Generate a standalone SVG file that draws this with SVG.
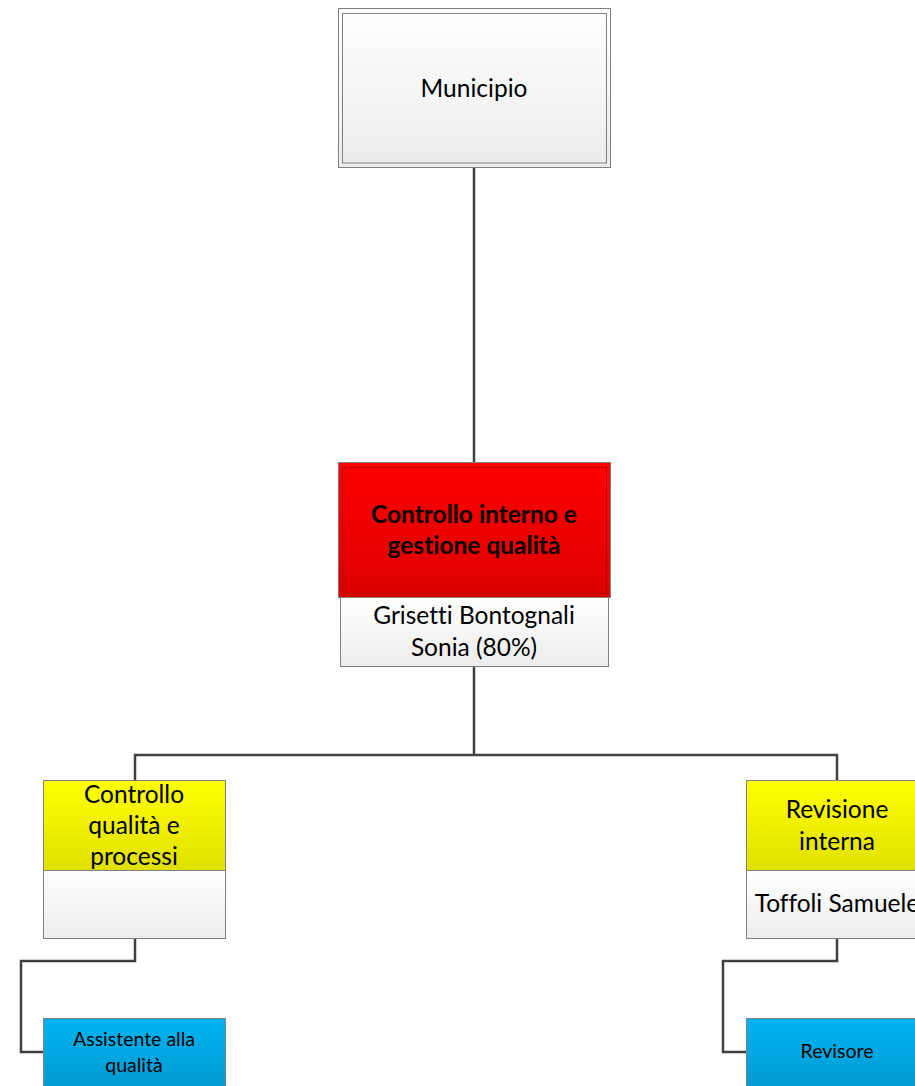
<svg xmlns="http://www.w3.org/2000/svg" width="915" height="1086" viewBox="0 0 915 1086">
<defs>
<linearGradient id="gGray" x1="0" y1="0" x2="0" y2="1"><stop offset="0" stop-color="#ffffff"/><stop offset="1" stop-color="#ececec"/></linearGradient>
<linearGradient id="gRed" x1="0" y1="0" x2="0" y2="1"><stop offset="0" stop-color="#ff0000"/><stop offset="1" stop-color="#dc0000"/></linearGradient>
<linearGradient id="gYellow" x1="0" y1="0" x2="0" y2="1"><stop offset="0" stop-color="#ffff00"/><stop offset="1" stop-color="#e0e000"/></linearGradient>
<linearGradient id="gBlue" x1="0" y1="0" x2="0" y2="1"><stop offset="0" stop-color="#00b4f2"/><stop offset="1" stop-color="#0096cc"/></linearGradient>
</defs>
<style>
.t{font-family:Lato,"Open Sans","Liberation Sans",sans-serif;font-size:24.5px;fill:#000;text-anchor:middle;font-variant-ligatures:none}
.b{font-weight:bold}
.s{font-size:19.5px}
.box{stroke:#808080;stroke-width:1}
.conn{fill:none;stroke:#404040;stroke-width:2.5}
</style>
<g id="connectors">
<path class="conn" d="M474,167 V463"/>
<path class="conn" d="M474,667 V755 M135,780 V755 H837 V780"/>
<path class="conn" d="M135,938 V961 H21 V1052 H44"/>
<path class="conn" d="M837,938 V961 H723 V1052 H747"/>
</g>
<g id="municipio">
<rect class="box" x="338.5" y="8.5" width="272" height="159" fill="url(#gGray)"/>
<rect x="342.5" y="13.5" width="264" height="149.5" fill="none" stroke="#808080" stroke-width="1"/>
<text class="t" x="474" y="97">Municipio</text>
</g>
<g id="controllo-interno">
<rect class="box" x="338.5" y="462.5" width="272" height="135" fill="url(#gRed)"/>
<rect x="342.5" y="467.5" width="264" height="126" fill="none" stroke="#b00000" stroke-width="1"/>
<text class="t b" x="474" y="523">Controllo interno e</text>
<text class="t b" x="474" y="554">gestione qualità</text>
</g>
<g id="grisetti">
<rect class="box" x="340.5" y="597.5" width="268" height="69" fill="url(#gGray)"/>
<text class="t" x="474" y="624">Grisetti Bontognali</text>
<text class="t" x="474" y="656">Sonia (80%)</text>
</g>
<g id="controllo-qualita">
<rect class="box" x="43.5" y="780.5" width="182" height="90" fill="url(#gYellow)"/>
<text class="t" x="134" y="803">Controllo</text>
<text class="t" x="134" y="834">qualità e</text>
<text class="t" x="134" y="865">processi</text>
</g>
<g id="controllo-qualita-name">
<rect class="box" x="43.5" y="870.5" width="182" height="68" fill="url(#gGray)"/>
</g>
<g id="assistente">
<rect class="box" x="43.5" y="1018.5" width="182" height="80" fill="url(#gBlue)"/>
<text class="t s" x="134" y="1046">Assistente alla</text>
<text class="t s" x="134" y="1072">qualità</text>
</g>
<g id="revisione-interna">
<rect class="box" x="746.5" y="780.5" width="182" height="90" fill="url(#gYellow)"/>
<text class="t" x="837" y="818">Revisione</text>
<text class="t" x="837" y="850">interna</text>
</g>
<g id="toffoli">
<rect class="box" x="746.5" y="870.5" width="182" height="68" fill="url(#gGray)"/>
<text class="t" x="837" y="912">Toffoli Samuele</text>
</g>
<g id="revisore">
<rect class="box" x="746.5" y="1018.5" width="182" height="80" fill="url(#gBlue)"/>
<text class="t s" x="837" y="1058">Revisore</text>
</g>
</svg>
